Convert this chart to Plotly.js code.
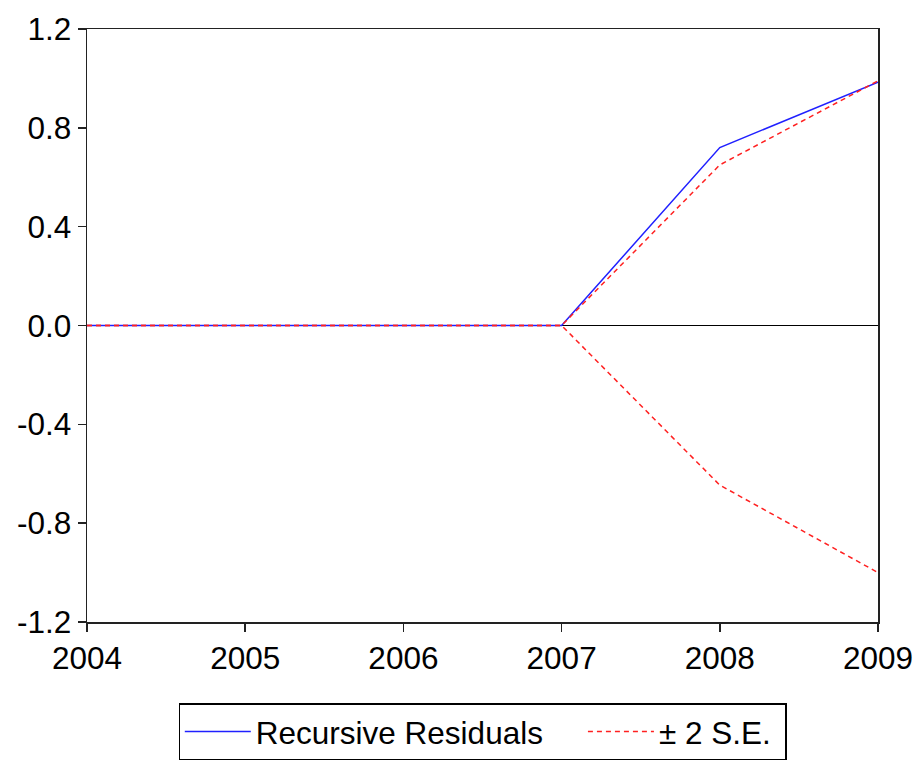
<!DOCTYPE html>
<html>
<head>
<meta charset="utf-8">
<script src="https://cdn.plot.ly/plotly-3.0.1.min.js"></script>
<style>html,body{margin:0;padding:0;background:#fff;}#chart{width:917px;height:763px;}</style>
</head>
<body>
<div id="chart"></div>
<script>
const years = [2004, 2005, 2006, 2007, 2008, 2009];
const recursiveResiduals = [0, 0, 0, 0, 0.72, 0.985];
const upperSE = [0, 0, 0, 0, 0.65, 0.99];
const lowerSE = [0, 0, 0, 0, -0.646, -1.0];
const yTickVals = [-1.2, -0.8, -0.4, 0.0, 0.4, 0.8, 1.2];
const yTickText = ['-1.2', '-0.8', '-0.4', '0.0', '0.4', '0.8', '1.2'];
const xTickText = ['2004', '2005', '2006', '2007', '2008', '2009'];

const font = {family: 'Liberation Sans, Arial, sans-serif', size: 31.5, color: '#000'};

const traces = [
  {x: years, y: recursiveResiduals, type: 'scatter', mode: 'lines',
   name: 'Recursive Residuals\u00a0\u00a0\u00a0\u00a0', line: {color: '#2020ff', width: 1.5}},
  {x: years, y: upperSE, type: 'scatter', mode: 'lines', name: '± 2 S.E.\u00a0',
   legendgroup: 'se', line: {color: '#ff2020', width: 1.5, dash: '5px,4px'}},
  {x: years, y: lowerSE, type: 'scatter', mode: 'lines', name: '± 2 S.E.',
   legendgroup: 'se', showlegend: false, line: {color: '#ff2020', width: 1.5, dash: '5px,4px'}}
];

const layout = {
  width: 917, height: 763,
  margin: {l: 87, r: 39, t: 29, b: 141, autoexpand: false},
  paper_bgcolor: '#fff', plot_bgcolor: '#fff',
  font: font,
  showlegend: true,
  legend: {orientation: 'h', x: 0.5, xanchor: 'center', y: -0.137, yanchor: 'top',
           bordercolor: '#000', borderwidth: 1.3, font: font, traceorder: 'normal',
           itemwidth: 66},
  xaxis: {range: [2004, 2009], tickvals: years, ticktext: xTickText,
          showgrid: false, zeroline: false, showline: true, mirror: true,
          linecolor: '#222', linewidth: 1.5, ticks: 'outside', ticklen: 8,
          tickcolor: '#222', tickwidth: 1.5, tickfont: font},
  yaxis: {range: [-1.2, 1.2], tickvals: yTickVals, ticktext: yTickText,
          showgrid: false, zeroline: true, zerolinecolor: '#000', zerolinewidth: 1.5,
          showline: true, mirror: true, linecolor: '#222', linewidth: 1.5,
          ticks: 'outside', ticklen: 8, tickcolor: '#222', tickwidth: 1.5, tickfont: font}
};

Plotly.newPlot('chart', traces, layout, {displayModeBar: false, staticPlot: true});
</script>
</body>
</html>
